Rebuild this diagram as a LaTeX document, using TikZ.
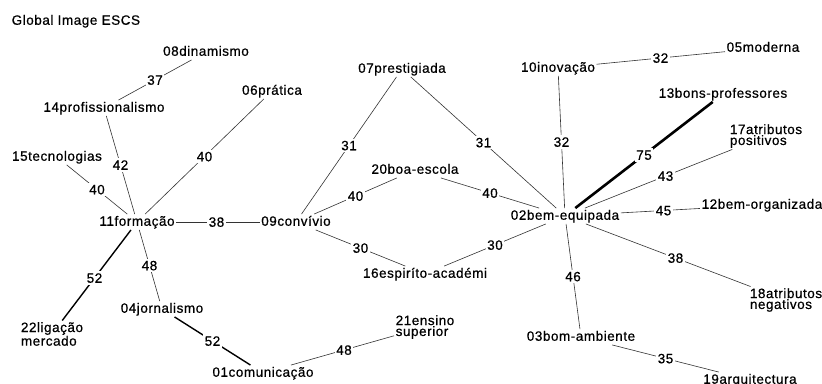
\documentclass[tikz,border=0pt]{standalone}
\usepackage{fontspec}
\setmainfont[LetterSpace=4,FakeBold=0.6]{Liberation Sans}
\begin{document}
\begin{tikzpicture}[x=1pt,y=-1pt,
  every node/.style={font=\fontsize{13.5}{14}\selectfont},
  term/.style={inner sep=1.5pt, text height=10pt, text depth=2.5pt},
  term2/.style={inner sep=1.5pt, align=left, font=\fontsize{13.5}{6}\selectfont},
  lbl/.style={fill=white, inner sep=1.5pt, text height=10pt, text depth=0.5pt},
  w1/.style={draw=black!80, line width=0.6pt},
  w2/.style={draw=black, line width=1.4pt},
  w3/.style={draw=black, line width=2.6pt}]
\fill[white] (0,0) rectangle (822,383);
\useasboundingbox (0,0) rectangle (822,383);
\node[term, anchor=west] (title) at (10,21) {Global Image ESCS};
\node[term] (n08) at (206,52) {08dinamismo};
\node[term] (n14) at (104,108) {14profissionalismo};
\node[term] (n06) at (272,91) {06prática};
\node[term] (n15) at (57,157) {15tecnologias};
\node[term] (n11) at (137,222) {11formação};
\node[term] (n09) at (296,222) {09convívio};
\node[term2] (n22) at (52,334) {22ligação\\mercado};
\node[term] (n04) at (162,309) {04jornalismo};
\node[term] (n01) at (263,373) {01comunicação};
\node[term2] (n21) at (425,327) {21ensino\\superior};
\node[term] (n16) at (425,274) {16espiríto-académi};
\node[term] (n20) at (415,170) {20boa-escola};
\node[term] (n07) at (402,69) {07prestigiada};
\node[term] (n02) at (565,216) {02bem-equipada};
\node[term] (n10) at (558,68) {10inovação};
\node[term] (n05) at (763,48) {05moderna};
\node[term] (n13) at (723,94) {13bons-professores};
\node[term2] (n17) at (766,136) {17atributos\\positivos};
\node[term] (n12) at (762,205) {12bem-organizada};
\node[term2] (n18) at (786,300) {18atributos\\negativos};
\node[term] (n03) at (581,337) {03bom-ambiente};
\node[term] (n19) at (750,380) {19arquitectura};
\foreach \a/\b/\w/\s in {n08/n14/37/w1, n14/n11/42/w1, n06/n11/40/w1, n15/n11/40/w1,
  n11/n09/38/w1, n11/n22/52/w2, n11/n04/48/w1, n04/n01/52/w2, n01/n21/48/w1,
  n09/n07/31/w1, n07/n02/31/w1, n09/n20/40/w1, n20/n02/40/w1, n09/n16/30/w1,
  n16/n02/30/w1, n10/n02/32/w1, n10/n05/32/w1, n02/n13/75/w3, n02/n17/43/w1,
  n02/n12/45/w1, n02/n18/38/w1, n02/n03/46/w1, n03/n19/35/w1} {
  \draw[\s] (\a) -- (\b);
  \path (\a.center) -- node[lbl] {\w} (\b.center);
}
\end{tikzpicture}
\end{document}
